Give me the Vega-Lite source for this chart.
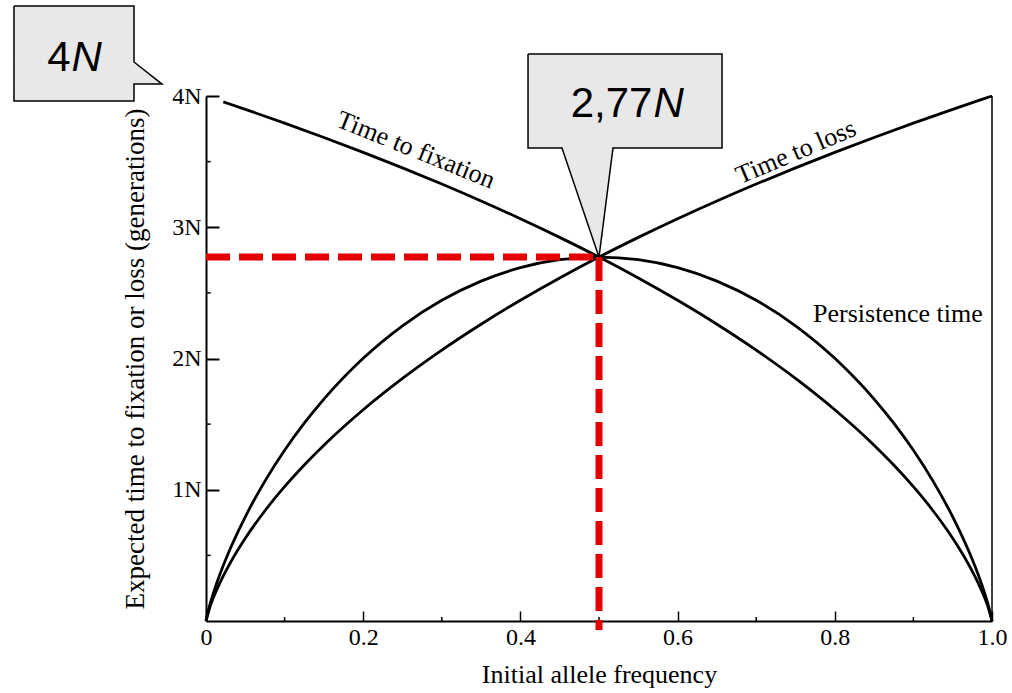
{
  "$schema": "https://vega.github.io/schema/vega-lite/v6.json",
  "width": 786,
  "height": 525,
  "autosize": "none",
  "padding": {"left": 206, "top": 96, "right": 20, "bottom": 72},
  "background": "white",
  "config": {
    "view": {"stroke": null},
    "font": "Liberation Serif",
    "axis": {
      "domainColor": "black",
      "tickColor": "black",
      "labelColor": "black",
      "titleColor": "black",
      "labelFont": "Liberation Serif",
      "titleFont": "Liberation Serif",
      "titleFontWeight": "normal",
      "grid": false
    }
  },
  "datasets": {
    "curves": [
      {"x": 0.022, "y": 3.9557, "curve": "fixation"},
      {"x": 0.03, "y": 3.9394, "curve": "fixation"},
      {"x": 0.05, "y": 3.8982, "curve": "fixation"},
      {"x": 0.075, "y": 3.8461, "curve": "fixation"},
      {"x": 0.1, "y": 3.793, "curve": "fixation"},
      {"x": 0.15, "y": 3.6838, "curve": "fixation"},
      {"x": 0.2, "y": 3.5703, "curve": "fixation"},
      {"x": 0.25, "y": 3.4522, "curve": "fixation"},
      {"x": 0.3, "y": 3.329, "curve": "fixation"},
      {"x": 0.35, "y": 3.2001, "curve": "fixation"},
      {"x": 0.4, "y": 3.065, "curve": "fixation"},
      {"x": 0.45, "y": 2.9228, "curve": "fixation"},
      {"x": 0.5, "y": 2.7726, "curve": "fixation"},
      {"x": 0.55, "y": 2.6133, "curve": "fixation"},
      {"x": 0.6, "y": 2.4434, "curve": "fixation"},
      {"x": 0.65, "y": 2.2612, "curve": "fixation"},
      {"x": 0.7, "y": 2.064, "curve": "fixation"},
      {"x": 0.75, "y": 1.8484, "curve": "fixation"},
      {"x": 0.8, "y": 1.6094, "curve": "fixation"},
      {"x": 0.85, "y": 1.3391, "curve": "fixation"},
      {"x": 0.875, "y": 1.1883, "curve": "fixation"},
      {"x": 0.9, "y": 1.0234, "curve": "fixation"},
      {"x": 0.925, "y": 0.8401, "curve": "fixation"},
      {"x": 0.95, "y": 0.6307, "curve": "fixation"},
      {"x": 0.97, "y": 0.4338, "curve": "fixation"},
      {"x": 0.98, "y": 0.3193, "curve": "fixation"},
      {"x": 0.99, "y": 0.1861, "curve": "fixation"},
      {"x": 0.995, "y": 0.1065, "curve": "fixation"},
      {"x": 1, "y": 0, "curve": "fixation"},
      {"x": 0, "y": 0, "curve": "loss"},
      {"x": 0.005, "y": 0.1065, "curve": "loss"},
      {"x": 0.01, "y": 0.1861, "curve": "loss"},
      {"x": 0.02, "y": 0.3193, "curve": "loss"},
      {"x": 0.03, "y": 0.4338, "curve": "loss"},
      {"x": 0.05, "y": 0.6307, "curve": "loss"},
      {"x": 0.075, "y": 0.8401, "curve": "loss"},
      {"x": 0.1, "y": 1.0234, "curve": "loss"},
      {"x": 0.125, "y": 1.1883, "curve": "loss"},
      {"x": 0.15, "y": 1.3391, "curve": "loss"},
      {"x": 0.2, "y": 1.6094, "curve": "loss"},
      {"x": 0.25, "y": 1.8484, "curve": "loss"},
      {"x": 0.3, "y": 2.064, "curve": "loss"},
      {"x": 0.35, "y": 2.2612, "curve": "loss"},
      {"x": 0.4, "y": 2.4434, "curve": "loss"},
      {"x": 0.45, "y": 2.6133, "curve": "loss"},
      {"x": 0.5, "y": 2.7726, "curve": "loss"},
      {"x": 0.55, "y": 2.9228, "curve": "loss"},
      {"x": 0.6, "y": 3.065, "curve": "loss"},
      {"x": 0.65, "y": 3.2001, "curve": "loss"},
      {"x": 0.7, "y": 3.329, "curve": "loss"},
      {"x": 0.75, "y": 3.4522, "curve": "loss"},
      {"x": 0.8, "y": 3.5703, "curve": "loss"},
      {"x": 0.85, "y": 3.6838, "curve": "loss"},
      {"x": 0.9, "y": 3.793, "curve": "loss"},
      {"x": 0.95, "y": 3.8982, "curve": "loss"},
      {"x": 0.975, "y": 3.9496, "curve": "loss"},
      {"x": 0.99, "y": 3.9799, "curve": "loss"},
      {"x": 1, "y": 4.0, "curve": "loss"},
      {"x": 0, "y": 0, "curve": "persistence"},
      {"x": 0.005, "y": 0.1259, "curve": "persistence"},
      {"x": 0.01, "y": 0.224, "curve": "persistence"},
      {"x": 0.02, "y": 0.3922, "curve": "persistence"},
      {"x": 0.03, "y": 0.539, "curve": "persistence"},
      {"x": 0.05, "y": 0.7941, "curve": "persistence"},
      {"x": 0.075, "y": 1.0655, "curve": "persistence"},
      {"x": 0.1, "y": 1.3003, "curve": "persistence"},
      {"x": 0.125, "y": 1.5071, "curve": "persistence"},
      {"x": 0.15, "y": 1.6908, "curve": "persistence"},
      {"x": 0.2, "y": 2.0016, "curve": "persistence"},
      {"x": 0.25, "y": 2.2493, "curve": "persistence"},
      {"x": 0.3, "y": 2.4435, "curve": "persistence"},
      {"x": 0.35, "y": 2.5898, "curve": "persistence"},
      {"x": 0.4, "y": 2.6921, "curve": "persistence"},
      {"x": 0.45, "y": 2.7526, "curve": "persistence"},
      {"x": 0.5, "y": 2.7726, "curve": "persistence"},
      {"x": 0.55, "y": 2.7526, "curve": "persistence"},
      {"x": 0.6, "y": 2.6921, "curve": "persistence"},
      {"x": 0.65, "y": 2.5898, "curve": "persistence"},
      {"x": 0.7, "y": 2.4435, "curve": "persistence"},
      {"x": 0.75, "y": 2.2493, "curve": "persistence"},
      {"x": 0.8, "y": 2.0016, "curve": "persistence"},
      {"x": 0.85, "y": 1.6908, "curve": "persistence"},
      {"x": 0.875, "y": 1.5071, "curve": "persistence"},
      {"x": 0.9, "y": 1.3003, "curve": "persistence"},
      {"x": 0.925, "y": 1.0655, "curve": "persistence"},
      {"x": 0.95, "y": 0.7941, "curve": "persistence"},
      {"x": 0.97, "y": 0.539, "curve": "persistence"},
      {"x": 0.98, "y": 0.3922, "curve": "persistence"},
      {"x": 0.99, "y": 0.224, "curve": "persistence"},
      {"x": 0.995, "y": 0.1259, "curve": "persistence"},
      {"x": 1, "y": 0, "curve": "persistence"}
    ],
    "minorX": [{"x": 0.1}, {"x": 0.3}, {"x": 0.5}, {"x": 0.7}, {"x": 0.9}],
    "minorY": [{"y": 0.5}, {"y": 1.5}, {"y": 2.5}, {"y": 3.5}],
    "frame": [{"x": 1, "y": 0, "y2": 4}],
    "guides": [
      {"x": 0, "x2": 0.5, "y": 2.7726, "y2": 2.7726},
      {"x": 0.5, "x2": 0.5, "y": 2.7726, "y2": -0.069}
    ],
    "callouts": [
      {"shape": "a", "order": 0, "x": -0.2443, "y": 4.686},
      {"shape": "a", "order": 1, "x": -0.0916, "y": 4.686},
      {"shape": "a", "order": 2, "x": -0.0916, "y": 4.259},
      {"shape": "a", "order": 3, "x": -0.056, "y": 4.091},
      {"shape": "a", "order": 4, "x": -0.0916, "y": 4.091},
      {"shape": "a", "order": 5, "x": -0.0916, "y": 3.962},
      {"shape": "a", "order": 6, "x": -0.2443, "y": 3.962},
      {"shape": "a", "order": 7, "x": -0.2443, "y": 4.686},
      {"shape": "b", "order": 0, "x": 0.4097, "y": 4.32},
      {"shape": "b", "order": 1, "x": 0.6565, "y": 4.32},
      {"shape": "b", "order": 2, "x": 0.6565, "y": 3.604},
      {"shape": "b", "order": 3, "x": 0.5178, "y": 3.604},
      {"shape": "b", "order": 4, "x": 0.5, "y": 2.7726},
      {"shape": "b", "order": 5, "x": 0.4529, "y": 3.604},
      {"shape": "b", "order": 6, "x": 0.4097, "y": 3.604},
      {"shape": "b", "order": 7, "x": 0.4097, "y": 4.32}
    ],
    "calloutText": [
      {"x": -0.1723, "y": 4.193, "num": "4"},
      {"x": 0.568, "y": 3.842, "num": "2,77"}
    ],
    "labelFix": [{"x": 0.2672, "y": 3.589, "label": "Time to fixation"}],
    "labelLoss": [{"x": 0.7506, "y": 3.573, "label": "Time to loss"}],
    "labelPers": [{"x": 0.7723, "y": 2.278, "label": "Persistence time"}]
  },
  "layer": [
    {
      "data": {"name": "curves"},
      "mark": {"type": "line", "color": "black", "strokeWidth": 2.8, "interpolate": "monotone"},
      "encoding": {
        "x": {
          "field": "x", "type": "quantitative",
          "scale": {"domain": [0, 1], "nice": false, "zero": false},
          "title": "Initial allele frequency",
          "axis": {
            "values": [0, 0.2, 0.4, 0.6, 0.8, 1],
            "labelExpr": "datum.value == 0 ? '0' : format(datum.value, '.1f')",
            "tickSize": -10, "tickWidth": 1.5, "domainWidth": 2,
            "labelFontSize": 24, "labelPadding": 14, "labelFlush": false,
            "titleFontSize": 26, "titlePadding": 12
          }
        },
        "y": {
          "field": "y", "type": "quantitative",
          "scale": {"domain": [0, 4], "nice": false, "zero": false},
          "title": "Expected time to fixation or loss (generations)",
          "axis": {
            "values": [1, 2, 3, 4],
            "labelExpr": "datum.value + 'N'",
            "tickSize": -13, "tickWidth": 2, "domainWidth": 2,
            "labelFontSize": 24, "labelPadding": 18, "labelFlush": false,
            "titleFontSize": 27, "titlePadding": 22
          }
        },
        "detail": {"field": "curve"}
      }
    },
    {
      "data": {"name": "minorX"},
      "mark": {"type": "rule", "color": "black", "strokeWidth": 1.5},
      "encoding": {
        "x": {"field": "x", "type": "quantitative"},
        "y": {"datum": 0},
        "y2": {"datum": 0.03}
      }
    },
    {
      "data": {"name": "minorY"},
      "mark": {"type": "rule", "color": "black", "strokeWidth": 1.5},
      "encoding": {
        "y": {"field": "y", "type": "quantitative"},
        "x": {"datum": 0},
        "x2": {"datum": 0.006}
      }
    },
    {
      "data": {"name": "frame"},
      "mark": {"type": "rule", "color": "black", "strokeWidth": 1.5},
      "encoding": {
        "x": {"field": "x", "type": "quantitative"},
        "y": {"field": "y", "type": "quantitative"},
        "y2": {"field": "y2"}
      }
    },
    {
      "data": {"name": "guides"},
      "mark": {"type": "rule", "color": "#e50000", "strokeWidth": 7, "strokeDash": [24, 9], "strokeCap": "butt"},
      "encoding": {
        "x": {"field": "x", "type": "quantitative"},
        "x2": {"field": "x2"},
        "y": {"field": "y", "type": "quantitative"},
        "y2": {"field": "y2"}
      }
    },
    {
      "data": {"name": "callouts"},
      "mark": {"type": "line", "fill": "#e8e8e8", "stroke": "black", "strokeWidth": 1.5, "interpolate": "linear", "strokeJoin": "miter"},
      "encoding": {
        "x": {"field": "x", "type": "quantitative"},
        "y": {"field": "y", "type": "quantitative"},
        "detail": {"field": "shape"},
        "order": {"field": "order", "type": "quantitative"}
      }
    },
    {
      "data": {"name": "calloutText"},
      "mark": {"type": "text", "font": "Liberation Sans", "fontSize": 42, "align": "right", "baseline": "alphabetic", "color": "black"},
      "encoding": {
        "x": {"field": "x", "type": "quantitative"},
        "y": {"field": "y", "type": "quantitative"},
        "text": {"field": "num"}
      }
    },
    {
      "data": {"name": "calloutText"},
      "mark": {"type": "text", "font": "Liberation Sans", "fontSize": 42, "fontStyle": "italic", "align": "left", "baseline": "alphabetic", "color": "black", "dx": 1},
      "encoding": {
        "x": {"field": "x", "type": "quantitative"},
        "y": {"field": "y", "type": "quantitative"},
        "text": {"value": "N"}
      }
    },
    {
      "data": {"name": "labelFix"},
      "mark": {"type": "text", "font": "Liberation Serif", "fontSize": 26, "angle": 22, "align": "center", "baseline": "middle", "color": "black"},
      "encoding": {
        "x": {"field": "x", "type": "quantitative"},
        "y": {"field": "y", "type": "quantitative"},
        "text": {"field": "label"}
      }
    },
    {
      "data": {"name": "labelLoss"},
      "mark": {"type": "text", "font": "Liberation Serif", "fontSize": 26, "angle": -23, "align": "center", "baseline": "middle", "color": "black"},
      "encoding": {
        "x": {"field": "x", "type": "quantitative"},
        "y": {"field": "y", "type": "quantitative"},
        "text": {"field": "label"}
      }
    },
    {
      "data": {"name": "labelPers"},
      "mark": {"type": "text", "font": "Liberation Serif", "fontSize": 26, "align": "left", "baseline": "alphabetic", "color": "black"},
      "encoding": {
        "x": {"field": "x", "type": "quantitative"},
        "y": {"field": "y", "type": "quantitative"},
        "text": {"field": "label"}
      }
    }
  ]
}
